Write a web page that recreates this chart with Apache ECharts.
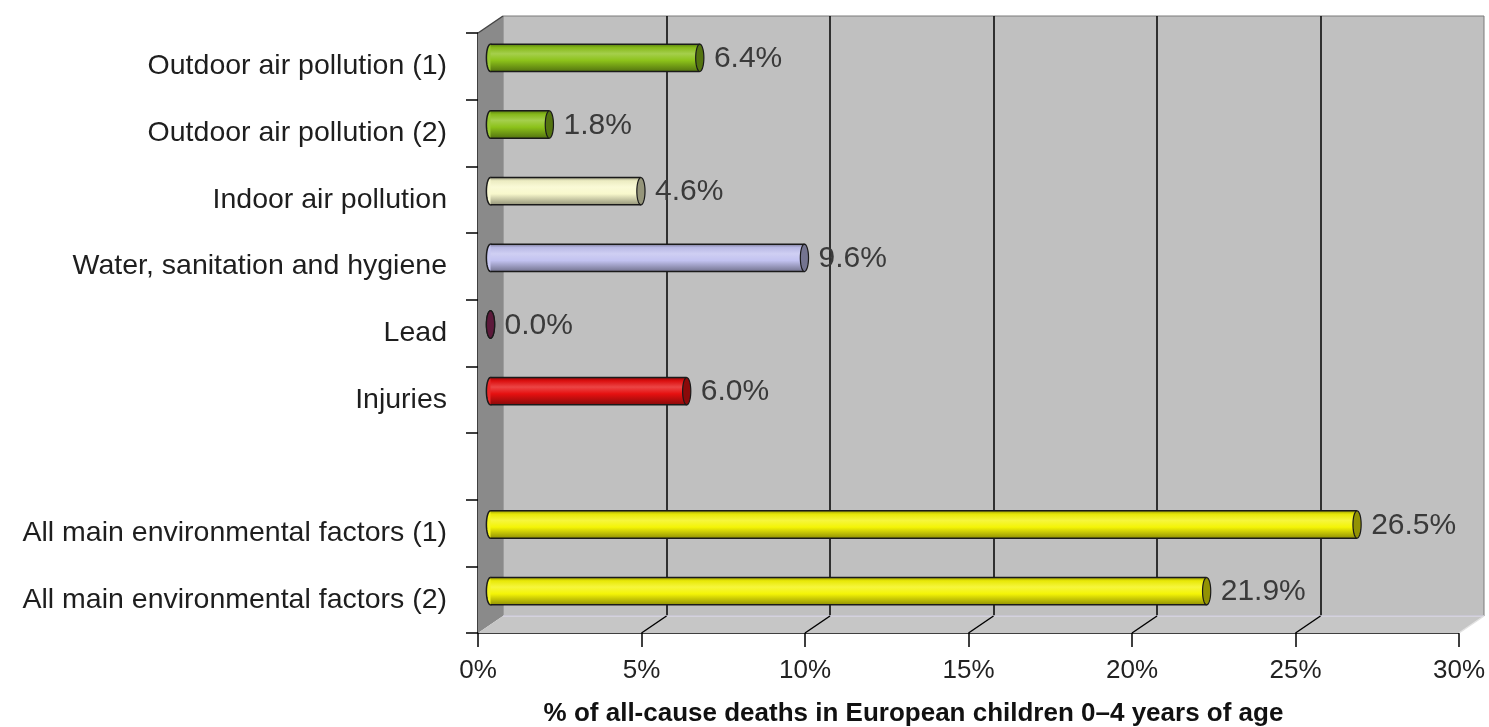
<!DOCTYPE html>
<html>
<head>
<meta charset="utf-8">
<script src="https://cdn.jsdelivr.net/npm/echarts@6/dist/echarts.min.js"></script>
<style>
  html, body { margin: 0; padding: 0; background: #ffffff; }
  #chart { width: 1489px; height: 727px; }
</style>
</head>
<body>
<div id="chart"></div>
<script>
// Risk factors, top to bottom (the empty entry is the gap before the totals)
const categories = [
  'Outdoor air pollution (1)',
  'Outdoor air pollution (2)',
  'Indoor air pollution',
  'Water, sanitation and hygiene',
  'Lead',
  'Injuries',
  '',
  'All main environmental factors (1)',
  'All main environmental factors (2)'
];
// Share of all-cause deaths, in percent
const shares = [6.4, 1.8, 4.6, 9.6, 0.0, 6.0, null, 26.5, 21.9];
// Value axis ticks, in percent
const xTicks = [0, 5, 10, 15, 20, 25, 30];
// Bar fill colours, one per category
const barColors = ['#8cc21a', '#8cc21a', '#f8f8cc', '#c2c2f0', '#9a2c62', '#e61010', null, '#f4f406', '#f4f406'];

const FONT = '"Liberation Sans", Arial, sans-serif';
const FRONT = { left: 478, top: 33, right: 30, bottom: 94 };   // front plane of the plot box
const DEPTH = [25, -17];                                      // offset from front plane to back wall

function shade(hex, amt) {
  const n = parseInt(hex.slice(1), 16);
  const c = [(n >> 16) & 255, (n >> 8) & 255, n & 255];
  const t = amt < 0 ? 0 : 255, p = Math.abs(amt);
  const o = c.map(v => Math.round(v + (t - v) * p));
  return 'rgb(' + o.join(',') + ')';
}

function ellipsePoints(cx, cy, rx, ry) {
  const pts = [];
  for (let k = 0; k < 36; k++) {
    const a = k / 36 * Math.PI * 2;
    pts.push([cx + rx * Math.cos(a), cy + ry * Math.sin(a)]);
  }
  return pts;
}

// Side wall, floor and the floor's tick diagonals
function renderFrame(params, api) {
  const cs = params.coordSys;
  const top = cs.y, bottom = cs.y + cs.height;
  const x0 = api.coord([xTicks[0], 0])[0];
  const xEnd = api.coord([xTicks[xTicks.length - 1], 0])[0];
  const [dx, dy] = DEPTH;
  const children = [
    {
      type: 'polygon',
      shape: { points: [[x0, top], [x0 + dx, top + dy], [x0 + dx, bottom + dy], [x0, bottom]] },
      style: { fill: '#8a8a8a' }
    },
    {
      type: 'polygon',
      shape: { points: [[x0, bottom], [xEnd, bottom], [xEnd + dx, bottom + dy], [x0 + dx, bottom + dy]] },
      style: { fill: '#c6c6c6' }
    },
    {
      type: 'line',
      shape: { x1: x0 + dx, y1: bottom + dy, x2: xEnd + dx, y2: bottom + dy },
      style: { stroke: '#d8d6e4', lineWidth: 1.5 }
    },
    {
      type: 'line',
      shape: { x1: xEnd, y1: bottom, x2: xEnd + dx, y2: bottom + dy },
      style: { stroke: '#e2e2e2', lineWidth: 1.5 }
    },
    {
      type: 'line',
      shape: { x1: x0, y1: top, x2: x0 + dx, y2: top + dy },
      style: { stroke: '#444444', lineWidth: 1.5 }
    }
  ];
  xTicks.slice(1, -1).forEach(t => {
    const x = api.coord([t, 0])[0];
    children.push({
      type: 'line',
      shape: { x1: x, y1: bottom, x2: x + dx, y2: bottom + dy },
      style: { stroke: '#000000', lineWidth: 1.5 }
    });
  });
  return { type: 'group', children };
}

// Cylinder bar at mid depth with its value label
function renderBar(params, api) {
  const v = api.value(0), idx = api.value(1);
  const color = barColors[idx];
  const p0 = api.coord([0, idx]), p1 = api.coord([v, idx]);
  const band = api.size([0, 1])[1];
  const h = band * 0.41, ry = h / 2, rx = h * 0.15;
  const x1 = p0[0] + DEPTH[0] / 2, x2 = p1[0] + DEPTH[0] / 2, cy = p0[1] + DEPTH[1] / 2;
  const body = new echarts.graphic.LinearGradient(0, 0, 0, 1, [
    { offset: 0, color: shade(color, -0.35) },
    { offset: 0.12, color: shade(color, -0.05) },
    { offset: 0.35, color: shade(color, 0.22) },
    { offset: 0.6, color: color },
    { offset: 1, color: shade(color, -0.4) }
  ]);
  const edge = '#1a1a1a';
  return {
    type: 'group',
    children: [
      { type: 'polygon', shape: { points: ellipsePoints(x1, cy, rx, ry) },
        style: { fill: shade(color, 0.1), stroke: edge, lineWidth: 1.5 } },
      { type: 'rect', shape: { x: x1, y: cy - ry, width: Math.max(0, x2 - x1), height: h },
        style: { fill: body } },
      { type: 'line', shape: { x1: x1, y1: cy - ry, x2: x2, y2: cy - ry },
        style: { stroke: edge, lineWidth: 1.5 } },
      { type: 'line', shape: { x1: x1, y1: cy + ry, x2: x2, y2: cy + ry },
        style: { stroke: edge, lineWidth: 1.5 } },
      { type: 'polygon', shape: { points: ellipsePoints(x2, cy, rx, ry) },
        style: { fill: shade(color, -0.4), stroke: edge, lineWidth: 1.2 } },
      { type: 'text',
        style: { text: v.toFixed(1) + '%', x: x2 + rx + 10, y: cy + 1, fill: '#3a3a3a',
                 fontSize: 30, fontFamily: FONT, align: 'left', verticalAlign: 'middle' } }
    ]
  };
}

const chart = echarts.init(document.getElementById('chart'), null, { renderer: 'canvas' });

const barData = [];
shares.forEach((v, i) => { if (v !== null) barData.push([v, i]); });

chart.setOption({
  animation: false,
  backgroundColor: '#ffffff',
  grid: [
    { // back wall
      left: FRONT.left + DEPTH[0], right: FRONT.right - DEPTH[0],
      top: FRONT.top + DEPTH[1], bottom: FRONT.bottom - DEPTH[1],
      outerBoundsMode: 'none', containLabel: false,
      show: true, backgroundColor: '#c0c0c0', borderColor: '#7a7a7a', borderWidth: 1
    },
    { // front plane
      left: FRONT.left, right: FRONT.right, top: FRONT.top, bottom: FRONT.bottom,
      outerBoundsMode: 'none', containLabel: false
    }
  ],
  xAxis: [
    {
      gridIndex: 0, type: 'value',
      min: xTicks[0], max: xTicks[xTicks.length - 1], interval: xTicks[1] - xTicks[0],
      axisLine: { show: false }, axisTick: { show: false }, axisLabel: { show: false },
      splitLine: { show: true, showMinLine: false, showMaxLine: false,
                   lineStyle: { color: '#000000', width: 1.5 } }
    },
    {
      gridIndex: 1, type: 'value',
      min: xTicks[0], max: xTicks[xTicks.length - 1], interval: xTicks[1] - xTicks[0],
      axisLine: { show: true, lineStyle: { color: '#000000', width: 1.5 } },
      axisTick: { show: true, length: 14, lineStyle: { color: '#000000', width: 1.5 } },
      axisLabel: { formatter: '{value}%', fontSize: 26, fontFamily: FONT, color: '#222222', margin: 25 },
      splitLine: { show: false },
      name: '% of all-cause deaths in European children 0\u20134 years of age',
      nameLocation: 'middle', nameGap: 68,
      nameTextStyle: { fontSize: 26, fontWeight: 'bold', fontFamily: FONT, color: '#111111',
                       padding: [0, 110, 0, 0] }
    }
  ],
  yAxis: [
    { gridIndex: 0, type: 'value', min: 0, max: 1, show: false },
    {
      gridIndex: 1, type: 'category', data: categories, inverse: true,
      axisLine: { show: true, lineStyle: { color: '#000000', width: 1.5 } },
      axisTick: { show: true, length: 12, lineStyle: { color: '#000000', width: 1.5 } },
      axisLabel: { fontSize: 28.5, fontFamily: FONT, color: '#1e1e1e', margin: 31,
                   padding: [4, 0, 0, 0] },
      splitLine: { show: false }
    }
  ],
  series: [
    {
      type: 'custom', xAxisIndex: 1, yAxisIndex: 1, z: 1,
      renderItem: renderFrame, data: [[0, 0]], silent: true
    },
    {
      type: 'custom', xAxisIndex: 1, yAxisIndex: 1, z: 3,
      renderItem: renderBar, encode: { x: 0, y: 1 }, data: barData
    }
  ]
});
</script>
</body>
</html>
